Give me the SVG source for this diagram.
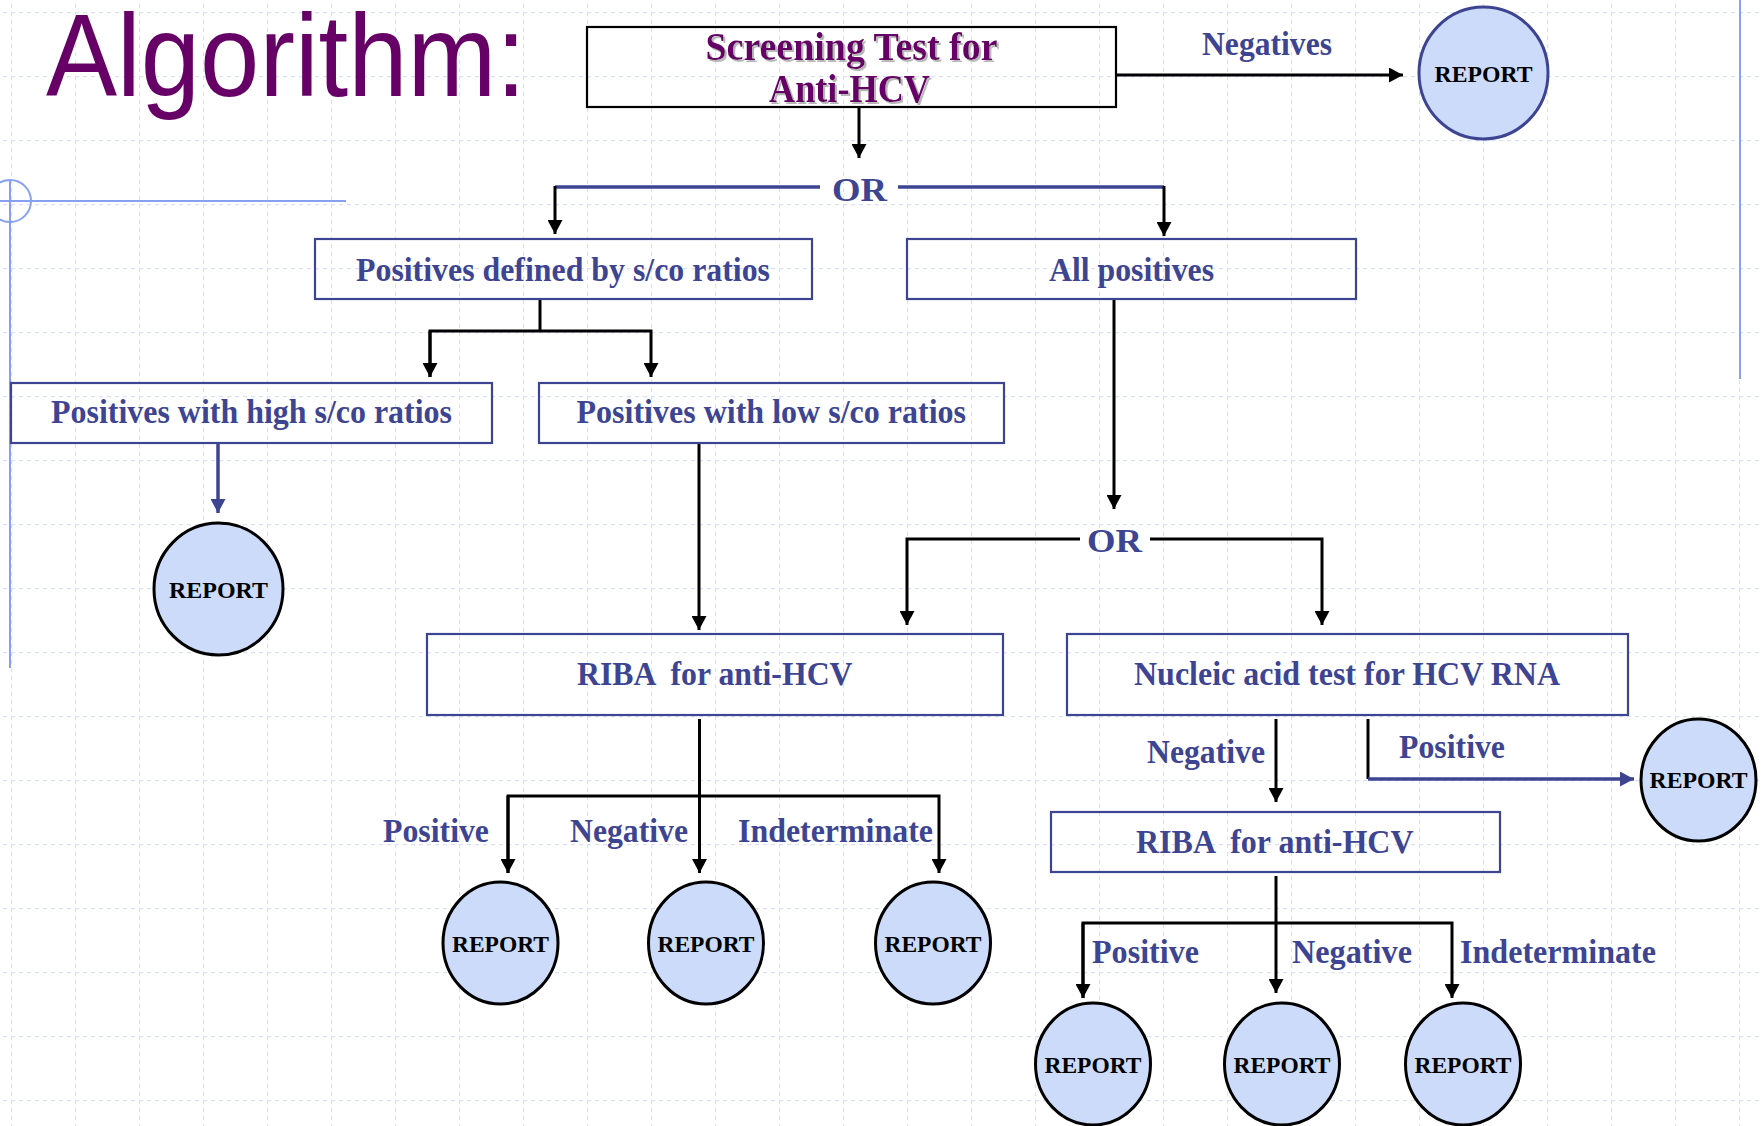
<svg xmlns="http://www.w3.org/2000/svg" width="1761" height="1126" viewBox="0 0 1761 1126">
  <style>
    .lbl { font-family: "Liberation Serif", "Times New Roman", serif; font-weight: bold; fill: #3d4592; font-size: 33px; white-space: pre; }
    .rep { font-family: "Liberation Serif", "Times New Roman", serif; font-weight: bold; fill: #000; font-size: 24px; text-anchor: middle; }
    .pur { font-family: "Liberation Serif", "Times New Roman", serif; font-weight: bold; fill: #660066; font-size: 40px; }
    .box { fill: none; stroke: #3d4592; stroke-width: 2.2; }
    .circ { fill: #cddbfa; stroke: #000; stroke-width: 3; }
    .blk { fill: none; stroke: #000; stroke-width: 3; }
    .blu { fill: none; stroke: #3d4592; stroke-width: 3.5; }
    .deco { fill: none; stroke: #88a0f2; stroke-width: 2; }
  </style>
  <defs>
    <pattern id="grid" patternUnits="userSpaceOnUse" x="11" y="12" width="64" height="64">
      <path d="M0 0.5 H64 M0.5 0 V64" fill="none" stroke="#d9e1fa" stroke-width="1.3" stroke-dasharray="4 4"/>
    </pattern>
    <filter id="shadow" x="-5%" y="-20%" width="115%" height="150%">
      <feOffset in="SourceAlpha" dx="2" dy="2" result="off"/>
      <feFlood flood-color="#b8b8b8"/>
      <feComposite in2="off" operator="in" result="sh"/>
      <feMerge>
        <feMergeNode in="sh"/>
        <feMergeNode in="SourceGraphic"/>
      </feMerge>
    </filter>
    <marker id="ab" viewBox="0 0 14 15" refX="14" refY="7.5" markerWidth="14" markerHeight="15" markerUnits="userSpaceOnUse" orient="auto">
      <path d="M0 0 L14 7.5 L0 15 Z" fill="#000"/>
    </marker>
    <marker id="au" viewBox="0 0 14 15" refX="14" refY="7.5" markerWidth="14" markerHeight="15" markerUnits="userSpaceOnUse" orient="auto">
      <path d="M0 0 L14 7.5 L0 15 Z" fill="#3d4592"/>
    </marker>
  </defs>

  <rect width="1761" height="1126" fill="#ffffff"/>
  <rect width="1761" height="1126" fill="url(#grid)"/>

  <!-- slide decorations -->
  <g id="decor">
    <line class="deco" x1="0" y1="201" x2="346" y2="201"/>
    <circle class="deco" cx="10" cy="201" r="21"/>
    <line class="deco" x1="10" y1="180" x2="10" y2="668"/>
    <line class="deco" x1="1740" y1="0" x2="1740" y2="379"/>
  </g>

  <text id="title" x="46" y="96" font-family="'Liberation Sans', Arial, sans-serif" font-size="116" fill="#660066" textLength="480" lengthAdjust="spacingAndGlyphs">Algorithm:</text>

  <!-- connectors -->
  <g id="connectors">
    <path class="blk" d="M859 107 V158" marker-end="url(#ab)"/>
    <path class="blk" d="M1116 75 H1403" marker-end="url(#ab)"/>
    <path class="blu" d="M555 187 H820"/>
    <path class="blk" d="M555 186 V234" marker-end="url(#ab)"/>
    <path class="blu" d="M898 187 H1164"/>
    <path class="blk" d="M1164 186 V236" marker-end="url(#ab)"/>
    <path class="blk" d="M540 299 V331"/>
    <path class="blk" d="M430 377 V331 H651 V377" marker-end="url(#ab)"/>
    <path class="blk" d="M430 331 V377" marker-end="url(#ab)"/>
    <path class="blu" d="M218 443 V513" marker-end="url(#au)"/>
    <path class="blk" d="M699 443 V630" marker-end="url(#ab)"/>
    <path class="blk" d="M1114 299 V509" marker-end="url(#ab)"/>
    <path class="blk" d="M1080 539 H907 V625" marker-end="url(#ab)"/>
    <path class="blk" d="M1150 539 H1322 V625" marker-end="url(#ab)"/>
    <path class="blk" d="M699.5 719 V873" marker-end="url(#ab)"/>
    <path class="blk" d="M508 873 V796 H939 V873" marker-end="url(#ab)"/>
    <path class="blk" d="M508 796 V873" marker-end="url(#ab)"/>
    <path class="blk" d="M1276 719 V802" marker-end="url(#ab)"/>
    <path class="blk" d="M1368 719 V779"/>
    <path class="blu" d="M1368 779 H1634" marker-end="url(#au)"/>
    <path class="blk" d="M1276 876 V993" marker-end="url(#ab)"/>
    <path class="blk" d="M1083 998 V923 H1452 V998" marker-end="url(#ab)"/>
    <path class="blk" d="M1083 923 V998" marker-end="url(#ab)"/>
  </g>

  <!-- connector labels -->
  <g id="labels">
    <text class="lbl" x="1202" y="55" textLength="130" lengthAdjust="spacingAndGlyphs">Negatives</text>
    <text class="lbl" x="832" y="201" font-size="36" textLength="55" lengthAdjust="spacingAndGlyphs">OR</text>
    <text class="lbl" x="1087" y="552" font-size="36" textLength="55" lengthAdjust="spacingAndGlyphs">OR</text>
    <text class="lbl" x="383" y="842" textLength="106" lengthAdjust="spacingAndGlyphs">Positive</text>
    <text class="lbl" x="570" y="842" textLength="118" lengthAdjust="spacingAndGlyphs">Negative</text>
    <text class="lbl" x="738" y="842" textLength="195" lengthAdjust="spacingAndGlyphs">Indeterminate</text>
    <text class="lbl" x="1147" y="763" textLength="118" lengthAdjust="spacingAndGlyphs">Negative</text>
    <text class="lbl" x="1399" y="758" textLength="106" lengthAdjust="spacingAndGlyphs">Positive</text>
    <text class="lbl" x="1092" y="963" textLength="107" lengthAdjust="spacingAndGlyphs">Positive</text>
    <text class="lbl" x="1292" y="963" textLength="120" lengthAdjust="spacingAndGlyphs">Negative</text>
    <text class="lbl" x="1460" y="963" textLength="196" lengthAdjust="spacingAndGlyphs">Indeterminate</text>
  </g>

  <!-- nodes -->
  <g id="screening">
    <rect x="587" y="27" width="529" height="80" fill="none" stroke="#000" stroke-width="2.2"/>
    <text class="pur" x="705.5" y="60" textLength="292" lengthAdjust="spacingAndGlyphs" filter="url(#shadow)">Screening Test for</text>
    <text class="pur" x="769" y="102" textLength="161" lengthAdjust="spacingAndGlyphs" filter="url(#shadow)">Anti-HCV</text>
  </g>
  <g id="report-top">
    <ellipse cx="1483.5" cy="73" rx="64.5" ry="66" fill="#cddbfa" stroke="#3d4592" stroke-width="3"/>
    <text class="rep" x="1483.5" y="82" textLength="98" lengthAdjust="spacingAndGlyphs">REPORT</text>
  </g>
  <g id="pos-defined">
    <rect class="box" x="315" y="239" width="497" height="60"/>
    <text class="lbl" x="356" y="281" textLength="414" lengthAdjust="spacingAndGlyphs">Positives defined by s/co ratios</text>
  </g>
  <g id="all-pos">
    <rect class="box" x="907" y="239" width="449" height="60"/>
    <text class="lbl" x="1049" y="281" textLength="165" lengthAdjust="spacingAndGlyphs">All positives</text>
  </g>
  <g id="pos-high">
    <rect class="box" x="11" y="383" width="481" height="60"/>
    <text class="lbl" x="51" y="423" textLength="401" lengthAdjust="spacingAndGlyphs">Positives with high s/co ratios</text>
  </g>
  <g id="pos-low">
    <rect class="box" x="539" y="383" width="465" height="60"/>
    <text class="lbl" x="576.5" y="423" textLength="389.5" lengthAdjust="spacingAndGlyphs">Positives with low s/co ratios</text>
  </g>
  <g id="report-high">
    <ellipse class="circ" cx="218.5" cy="589" rx="64.5" ry="66"/>
    <text class="rep" x="218.5" y="598" textLength="99" lengthAdjust="spacingAndGlyphs">REPORT</text>
  </g>
  <g id="riba1">
    <rect class="box" x="427" y="634" width="576" height="81"/>
    <text class="lbl" x="577" y="685" textLength="275.5" lengthAdjust="spacingAndGlyphs" xml:space="preserve">RIBA  for anti-HCV</text>
  </g>
  <g id="nat">
    <rect class="box" x="1067" y="634" width="561" height="81"/>
    <text class="lbl" x="1134" y="685" textLength="426" lengthAdjust="spacingAndGlyphs">Nucleic acid test for HCV RNA</text>
  </g>
  <g id="report-r1-pos">
    <ellipse class="circ" cx="500.5" cy="943" rx="57.5" ry="61"/>
    <text class="rep" x="500.5" y="952" textLength="97" lengthAdjust="spacingAndGlyphs">REPORT</text>
  </g>
  <g id="report-r1-neg">
    <ellipse class="circ" cx="706" cy="943" rx="57.5" ry="61"/>
    <text class="rep" x="706" y="952" textLength="97" lengthAdjust="spacingAndGlyphs">REPORT</text>
  </g>
  <g id="report-r1-ind">
    <ellipse class="circ" cx="933" cy="943" rx="57.5" ry="61"/>
    <text class="rep" x="933" y="952" textLength="97" lengthAdjust="spacingAndGlyphs">REPORT</text>
  </g>
  <g id="report-nat-pos">
    <ellipse class="circ" cx="1698.5" cy="780" rx="57.5" ry="61"/>
    <text class="rep" x="1698.5" y="788" textLength="98" lengthAdjust="spacingAndGlyphs">REPORT</text>
  </g>
  <g id="riba2">
    <rect class="box" x="1051" y="812" width="449" height="60"/>
    <text class="lbl" x="1136" y="853" textLength="277.5" lengthAdjust="spacingAndGlyphs" xml:space="preserve">RIBA  for anti-HCV</text>
  </g>
  <g id="report-r2-pos">
    <ellipse class="circ" cx="1093" cy="1064" rx="57.5" ry="61"/>
    <text class="rep" x="1093" y="1073" textLength="97" lengthAdjust="spacingAndGlyphs">REPORT</text>
  </g>
  <g id="report-r2-neg">
    <ellipse class="circ" cx="1282" cy="1064" rx="57.5" ry="61"/>
    <text class="rep" x="1282" y="1073" textLength="97" lengthAdjust="spacingAndGlyphs">REPORT</text>
  </g>
  <g id="report-r2-ind">
    <ellipse class="circ" cx="1463" cy="1064" rx="57.5" ry="61"/>
    <text class="rep" x="1463" y="1073" textLength="97" lengthAdjust="spacingAndGlyphs">REPORT</text>
  </g>
</svg>
